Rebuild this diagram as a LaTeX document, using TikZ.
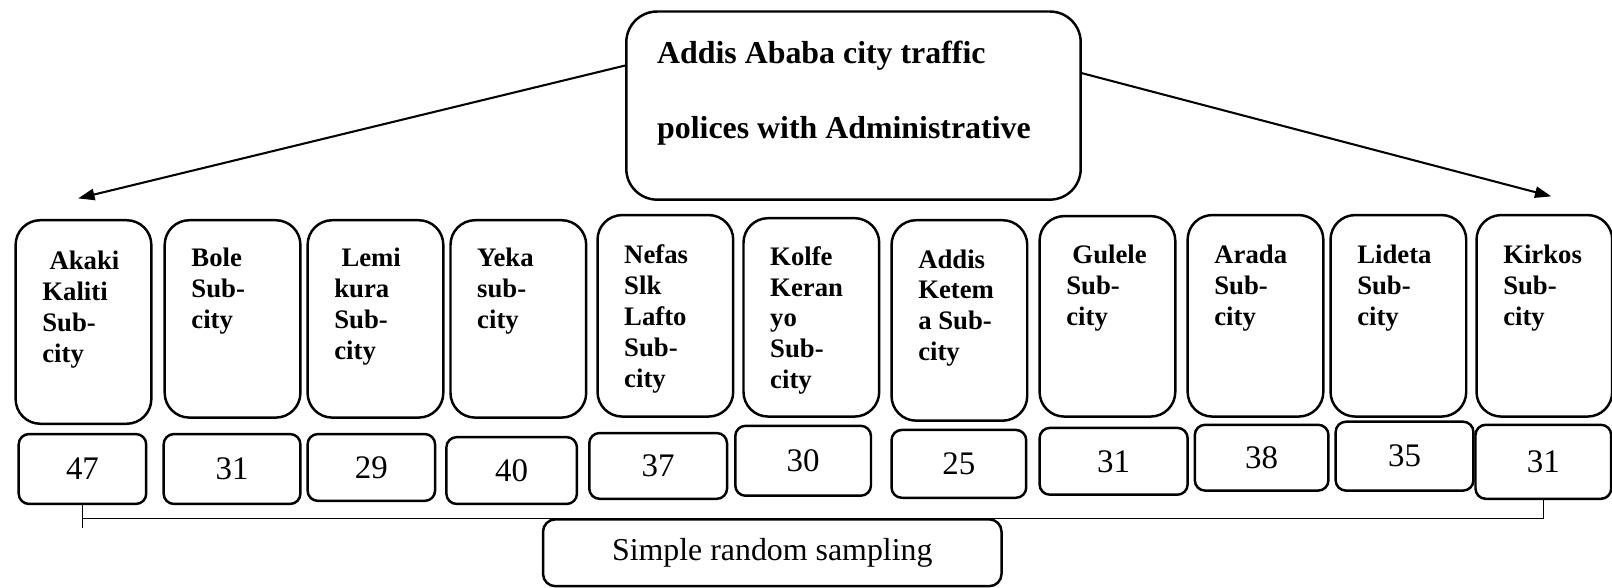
\documentclass[tikz,border=0pt]{standalone}
\usepackage{fontspec}
\setmainfont{Liberation Serif}
\usepackage{tikz}
\usetikzlibrary{arrows.meta,calc}

\newcommand{\subname}[1]{\parbox[c][69pt][t]{40pt}{#1}}
\newcommand{\titletext}[1]{\parbox[c][63pt][t]{191pt}{#1}}

\begin{document}
\begin{tikzpicture}[
  x=0.5pt, y=-0.5pt,
  >={Triangle[length=8pt,width=5.5pt]},
  title/.style={draw, line width=1.2pt, rounded corners=15pt, anchor=north west, inner xsep=15pt, inner ysep=14.25pt, minimum width=221pt, minimum height=91.5pt, font=\bfseries\fontsize{15.5}{36.5}\selectfont},
  sub/.style={draw, line width=1.2pt, rounded corners=12pt, anchor=north west, inner xsep=13pt, inner ysep=13.5pt, font=\bfseries\fontsize{13}{15}\selectfont},
  count/.style={draw, line width=1.2pt, rounded corners=5pt, anchor=north west, inner sep=0pt, font=\fontsize{16}{18}\selectfont},
  sample/.style={draw, line width=1.2pt, rounded corners=6pt, anchor=north west, inner sep=0pt, minimum width=223pt, minimum height=32.5pt, font=\fontsize{15.5}{18}\selectfont},
  line/.style={->, line width=1pt},
  bracket/.style={line width=0.6pt}
]
\useasboundingbox (0,0) rectangle (1568,571);

\node[title] (title) at (608,10) {\titletext{Addis Ababa city traffic\\polices with Administrative}};

% sub-cities
\node[sub, minimum height=99pt] (akaki) at (14,213) {\subname{\hspace*{3.5pt}Akaki\\Kaliti\\Sub-\\city}};
\node[sub, minimum height=96pt] (bole) at (159,213) {\subname{Bole\\Sub-\\city}};
\node[sub, minimum height=96pt] (lemi) at (298,213) {\subname{\hspace*{3.5pt}Lemi\\kura\\Sub-\\city}};
\node[sub, minimum height=96pt] (yeka) at (437,213) {\subname{Yeka\\sub-\\city}};
\node[sub, minimum height=98pt] (nefas) at (580,208) {\subname{Nefas\\Slk\\Lafto\\Sub-\\city}};
\node[sub, minimum height=96.5pt] (kolfe) at (722,211) {\subname{Kolfe\\Keran\\yo\\Sub-\\city}};
\node[sub, minimum height=97.5pt] (ketema) at (866,213) {\subname{Addis\\Ketem\\a Sub-\\city}};
\node[sub, minimum height=97.5pt] (gulele) at (1010,209) {\subname{\hspace*{3pt}Gulele\\Sub-\\city}};
\node[sub, minimum height=98pt] (arada) at (1154,208) {\subname{Arada\\Sub-\\city}};
\node[sub, minimum height=98pt] (lideta) at (1293,208) {\subname{Lideta\\Sub-\\city}};
\node[sub, minimum height=98pt] (kirkos) at (1435,208) {\subname{Kirkos\\Sub-\\city}};

% sample sizes
\node[count, minimum width=62pt, minimum height=34pt] (n-akaki) at (17,421) {47};
\node[count, minimum width=66.5pt, minimum height=34pt] (n-bole) at (158,421) {31};
\node[count, minimum width=62pt, minimum height=32.5pt] (n-lemi) at (298,421) {29};
\node[count, minimum width=63.5pt, minimum height=32.5pt] (n-yeka) at (433,424) {40};
\node[count, minimum width=67pt, minimum height=32pt] (n-nefas) at (572,420) {37};
\node[count, minimum width=66pt, minimum height=34pt] (n-kolfe) at (714,413) {30};
\node[count, minimum width=65.5pt, minimum height=33pt] (n-ketema) at (866,417) {25};
\node[count, minimum width=72pt, minimum height=32.5pt] (n-gulele) at (1010,415) {31};
\node[count, minimum width=65pt, minimum height=32pt] (n-arada) at (1161,412) {38};
\node[count, minimum width=67pt, minimum height=33.5pt] (n-lideta) at (1298,409) {35};
\node[count, minimum width=66pt, minimum height=36pt] (n-kirkos) at (1434,412) {31};

\node[sample] (samp) at (527,504) {Simple random sampling};

\coordinate (ltip) at (76,193);
\coordinate (rtip) at (1509,191);

\draw[line] ($(title.north west)!0.29!(title.south west)$) -- (ltip);
\draw[line] ($(title.north east)!0.33!(title.south east)$) -- (rtip);

\draw[bracket] (n-akaki.south) -- ++(0,22);
\draw[bracket] (n-akaki.south |- samp.north) -| (n-kirkos.south);

\end{tikzpicture}
\end{document}
